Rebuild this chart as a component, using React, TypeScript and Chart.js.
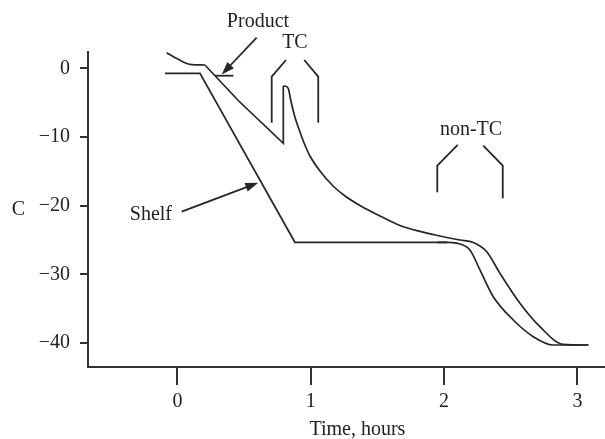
import React, { useEffect, useRef } from 'react';
import { Chart, registerables } from 'chart.js';

Chart.register(...registerables);

// ---- axis ticks ----
const xTicks = [0, 1, 2, 3];
const yTicks = [0, -10, -20, -30, -40];

// ---- Shelf temperature (hours, °C) ----
const shelfLineX = [-0.094, 0.169, 0.881, 2.02];
const shelfLineY = [-0.73, -0.73, -25.32, -25.32];
const shelfCurveX = [1.95, 2.02, 2.094, 2.194, 2.269, 2.369, 2.519, 2.669, 2.819, 3.082];
const shelfCurveY = [-25.32, -25.32, -25.45, -26.44, -29.35, -33.24, -36.63, -39.06, -40.27, -40.27];

// ---- Product temperature (hours, °C) ----
const prodHeadX = [-0.081, 0.006, 0.094, 0.206];
const prodHeadY = [2.27, 1.31, 0.58, 0.48];
const prodLineX = [0.206, 0.456, 0.794, 0.794];
const prodLineY = [0.48, -4.69, -10.92, -2.58];
const prodTailX = [0.794, 0.806, 0.831, 0.851, 0.881, 0.919, 0.956, 0.994, 1.069, 1.167, 1.257, 1.369, 1.519, 1.669, 1.819, 1.969, 2.119, 2.219, 2.32, 2.419, 2.569, 2.719, 2.894, 3.082];
const prodTailY = [-2.58, -2.58, -2.91, -4.76, -7.1, -9.27, -11.16, -12.76, -14.95, -17.13, -18.58, -19.97, -21.49, -22.87, -23.74, -24.4, -24.99, -25.35, -26.69, -29.84, -34.2, -37.61, -40.17, -40.27];

// ---- annotations (in data units) ----
const annoTexts = [
  { text: 'Product', x: 0.604, y: 6.74 },
  { text: 'TC', x: 0.881, y: 3.68 },
  { text: 'non-TC', x: 2.202, y: -8.98 },
  { text: 'Shelf', x: -0.199, y: -21.35 },
  { text: 'C', x: -1.193, y: -20.62 },
  { text: 'Time, hours', x: 1.35, y: -52.64 },
];
const annoPolylines: number[][][] = [
  [[0.814, 1.21], [0.707, -1.22], [0.707, -7.92]],
  [[0.951, 1.21], [1.056, -1.22], [1.056, -7.92]],
  [[2.102, -11.16], [1.949, -14.18], [1.949, -18.05]],
  [[2.294, -11.26], [2.44, -14.18], [2.44, -18.92]],
  [[0.281, -1.08], [0.419, -1.08]],
];
const annoArrows: number[][][] = [
  [[0.594, 4.45], [0.332, -0.9]],
  [[0.032, -20.87], [0.606, -16.65]],
];

const zip = (xs: number[], ys: number[]) => xs.map((x, i) => ({ x, y: ys[i] }));

const INK = '#262626';
const FONT = "'Liberation Serif', 'Times New Roman', serif";

const annotationPlugin = {
  id: 'annotations',
  afterDraw(chart: any) {
    const { ctx } = chart;
    const xs = chart.scales.x;
    const ys = chart.scales.y;
    const px = (v: number) => xs.getPixelForValue(v);
    const py = (v: number) => ys.getPixelForValue(v);
    ctx.save();
    ctx.strokeStyle = INK;
    ctx.fillStyle = INK;
    ctx.lineWidth = 1.8;
    ctx.lineJoin = 'miter';
    annoPolylines.forEach((pl) => {
      ctx.beginPath();
      pl.forEach(([a, b], i) => {
        if (i === 0) ctx.moveTo(px(a), py(b));
        else ctx.lineTo(px(a), py(b));
      });
      ctx.stroke();
    });
    annoArrows.forEach(([s, e]) => {
      const x0 = px(s[0]), y0 = py(s[1]), x1 = px(e[0]), y1 = py(e[1]);
      const ang = Math.atan2(y1 - y0, x1 - x0);
      const L = 13, W = 4.5;
      const bx = x1 - L * Math.cos(ang), by = y1 - L * Math.sin(ang);
      ctx.beginPath();
      ctx.moveTo(x0, y0);
      ctx.lineTo(bx + 2 * Math.cos(ang), by + 2 * Math.sin(ang));
      ctx.stroke();
      ctx.beginPath();
      ctx.moveTo(x1, y1);
      ctx.lineTo(bx + W * Math.sin(ang), by - W * Math.cos(ang));
      ctx.lineTo(bx - W * Math.sin(ang), by + W * Math.cos(ang));
      ctx.closePath();
      ctx.fill();
    });
    ctx.font = `20px ${FONT}`;
    ctx.textAlign = 'center';
    ctx.textBaseline = 'middle';
    ctx.fillStyle = '#222';
    annoTexts.forEach((t) => ctx.fillText(t.text, px(t.x), py(t.y)));
    ctx.restore();
  },
};

export default function App() {
  const ref = useRef<HTMLCanvasElement | null>(null);
  useEffect(() => {
    if (!ref.current) return;
    const lineBase = {
      type: 'line' as const,
      borderColor: INK,
      borderWidth: 1.7,
      pointRadius: 0,
      fill: false,
      clip: false as any,
    };
    const chart = new Chart(ref.current, {
      type: 'line',
      data: {
        datasets: [
          { ...lineBase, label: 'Shelf', data: zip(shelfLineX, shelfLineY), tension: 0 },
          { ...lineBase, label: 'Shelf end', data: zip(shelfCurveX, shelfCurveY), cubicInterpolationMode: 'monotone' },
          { ...lineBase, label: 'Product start', data: zip(prodHeadX, prodHeadY), cubicInterpolationMode: 'monotone' },
          { ...lineBase, label: 'Product', data: zip(prodLineX, prodLineY), tension: 0 },
          { ...lineBase, label: 'Product end', data: zip(prodTailX, prodTailY), cubicInterpolationMode: 'monotone' },
        ] as any,
      },
      options: {
        animation: false,
        responsive: false,
        devicePixelRatio: 1,
        layout: { padding: { top: 52, right: 0, left: 0, bottom: 0 } },
        plugins: { legend: { display: false }, tooltip: { enabled: false } },
        scales: {
          x: {
            type: 'linear',
            min: -0.671,
            max: 3.207,
            afterBuildTicks: (s: any) => { s.ticks = xTicks.map((v) => ({ value: v })); },
            afterFit: (s: any) => { s.height = 72; },
            grid: { drawOnChartArea: false, drawTicks: true, tickLength: 18, color: '#333', lineWidth: 2 },
            border: { display: true, color: '#333', width: 2 },
            ticks: {
              autoSkip: false,
              maxRotation: 0,
              padding: 5,
              color: '#222',
              font: { family: FONT, size: 20 },
              callback: (v: any) => String(v),
            },
          },
          y: {
            type: 'linear',
            min: -43.47,
            max: 2.37,
            afterBuildTicks: (s: any) => { s.ticks = yTicks.map((v) => ({ value: v })); },
            afterFit: (s: any) => { s.width = 88; },
            grid: { drawOnChartArea: false, drawTicks: true, tickLength: 8, color: '#333', lineWidth: 2 },
            border: { display: true, color: '#333', width: 2 },
            ticks: {
              autoSkip: false,
              padding: 10,
              color: '#222',
              font: { family: FONT, size: 20 },
              callback: (v: any) => (Number(v) < 0 ? '\u2212' + Math.abs(Number(v)) : String(v)),
            },
          },
        },
      },
      plugins: [annotationPlugin],
    });
    return () => chart.destroy();
  }, []);
  return (
    <div style={{ position: 'fixed', left: 0, top: 0, width: 605, height: 439, background: '#fff' }}>
      <canvas ref={ref} width={605} height={439} style={{ width: 605, height: 439, display: 'block' }} />
    </div>
  );
}
